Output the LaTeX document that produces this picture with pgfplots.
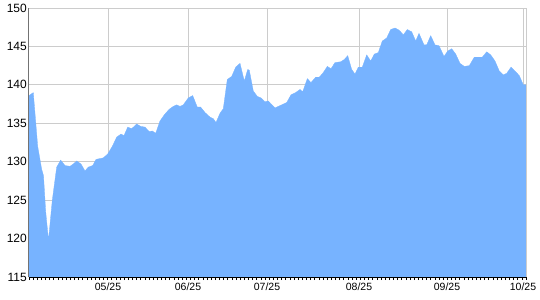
\documentclass[border=0pt]{standalone}
\usepackage{pgfplots}
\pgfplotsset{compat=1.18}
\usepackage{fontspec}
\setmainfont{Liberation Sans}
\definecolor{areablue}{RGB}{119,179,255}
\definecolor{gridgray}{RGB}{204,204,204}
\begin{document}
\begin{tikzpicture}
\begin{axis}[
  name=ax,
  scale only axis,
  width=497bp, height=269bp,
  xmin=29, xmax=526, ymin=115, ymax=150,
  ytick={115,120,...,150},
  xtick={108,188,267,359,447,523},
  xticklabels={05/25,06/25,07/25,08/25,09/25,10/25},
  minor xtick={29,33.142,...,526.5},
  xtick pos=lower,
  ytick pos=left,
  xmajorgrids, ymajorgrids,
  grid style={gridgray, line width=1bp},
  axis line style={draw=none},
  ytick style={draw=none},
  major x tick style={draw=none},
  minor x tick style={draw=black, line width=0.8bp, yshift=-3bp},
  minor tick length=3bp,
  yticklabel style={font=\fontsize{12bp}{12bp}\selectfont, inner sep=0pt, anchor=east, xshift=-2bp},
  xticklabel style={font=\fontsize{10.5bp}{10.5bp}\selectfont, inner sep=0pt, anchor=north, yshift=-6bp},
  /pgf/number format/assume math mode=true,
  clip=false,
]
\addplot[fill=areablue, draw=areablue, line width=0.3bp] table {
x y
29 138.6
33.3 139.0
37.7 132.0
41.7 129.0
43.5 128.2
45.7 123.5
48.5 119.8
52.3 125.0
56.7 129.3
60.7 130.2
65 129.5
70 129.4
73.3 129.7
76.7 130.1
81 129.7
85 128.8
88.3 129.3
92.7 129.5
96 130.3
103.3 130.5
107.7 131.0
112.3 132.0
116.7 133.2
121 133.6
124 133.4
127.7 134.5
131.7 134.3
136.7 134.9
140.7 134.6
145 134.5
149.3 133.9
152.3 134.0
155.7 133.7
160 135.3
164.3 136.1
169 136.8
173.3 137.2
176.7 137.4
180 137.2
183.3 137.4
188.3 138.3
192.7 138.6
197.3 137.1
200.7 137.1
205 136.4
210 135.8
213.3 135.6
216 135.1
220 136.3
223.3 136.9
227.3 140.7
231.7 141.1
235.7 142.3
240 142.8
244.3 140.5
247.7 142.0
249.3 141.9
253.3 139.2
257.3 138.5
261 138.3
265 137.8
268.3 137.9
275 137.0
280 137.3
286.7 137.7
291 138.7
295.7 139.0
300 139.4
302.7 139.1
307.3 140.8
311 140.3
315.7 141.0
319.3 141.0
323.3 141.6
327.3 142.4
331 142.1
335 142.9
340.7 143.0
344.3 143.3
347.7 143.8
351.7 142.0
355 141.4
358.3 142.3
362.3 142.3
366.7 143.9
370.7 143.1
374.3 144.0
378.3 144.2
382.3 145.7
386.7 146.1
390.7 147.2
395 147.4
399.3 147.1
403.3 146.5
407.3 147.2
411.7 146.9
415.7 145.7
419 146.7
424 145.2
426.7 145.2
430.7 146.4
435 145.2
439 145.1
444 143.7
447.7 144.4
451.7 144.7
455.7 144.0
460 142.8
464.3 142.4
469.3 142.5
474.3 143.6
479 143.6
482.3 143.6
486.7 144.3
490.7 143.9
495 143.1
499.3 141.8
503.3 141.3
506.7 141.5
511 142.3
515 141.8
519.3 141.2
523.3 140.0
526 140.0
} \closedcycle;
\draw[gridgray, line width=1bp] (rel axis cs:0,1) -- (rel axis cs:1,1) -- (rel axis cs:1,0);
\draw[black!55, line width=1bp] (rel axis cs:0,0) -- (rel axis cs:0,1);
\draw[black, line width=1bp] (rel axis cs:0,0) -- (rel axis cs:1,0);
\end{axis}
\pgfresetboundingbox
\path[use as bounding box] (ax.south west) ++(-29bp,-23bp) rectangle ++(540bp,300bp);
\end{tikzpicture}
\end{document}
